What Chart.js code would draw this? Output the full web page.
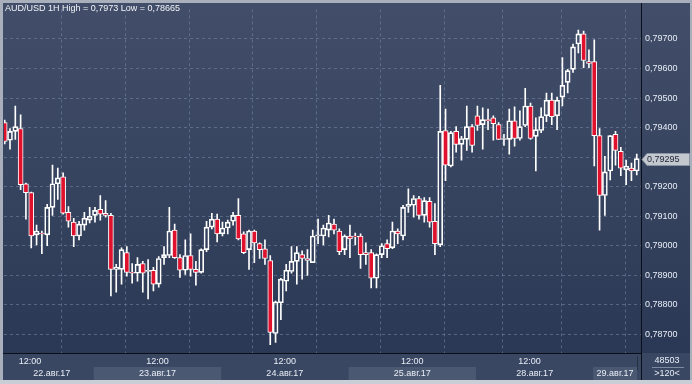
<!DOCTYPE html>
<html><head><meta charset="utf-8">
<script src="https://cdn.jsdelivr.net/npm/chart.js@4"></script>
<style>html,body{margin:0;padding:0;background:#a9b0bc;overflow:hidden}canvas{display:block}</style>
</head><body>
<canvas id="c" width="692" height="384"></canvas>
<script>
const titleText = 'AUD/USD 1H High = 0,7973 Low = 0,78665';
const opens = [0.79417,0.79357,0.79387,0.79397,0.79210,0.79180,0.79037,0.79043,0.79037,0.79130,
0.79210,0.79233,0.79113,0.79080,0.79033,0.79070,0.79087,0.79103,0.79123,0.79110,
0.79103,0.78920,0.78920,0.78977,0.78910,0.78907,0.78940,0.78913,0.78917,0.78870,
0.78960,0.78967,0.79053,0.78960,0.78917,0.78967,0.78920,0.78910,0.78987,0.79063,
0.79090,0.79040,0.79060,0.79083,0.79103,0.79040,0.78987,0.79050,0.79007,0.78990,
0.78950,0.78703,0.78807,0.78880,0.78913,0.78947,0.78970,0.78957,0.78943,0.79033,
0.79033,0.79053,0.79073,0.79050,0.78987,0.79033,0.79033,0.79033,0.78977,0.78977,
0.78890,0.78970,0.79007,0.78993,0.79050,0.79033,0.79133,0.79137,0.79160,0.79103,
0.79150,0.79083,0.79003,0.79390,0.79270,0.79387,0.79343,0.79360,0.79403,0.79440,
0.79410,0.79427,0.79433,0.79410,0.79360,0.79360,0.79423,0.79363,0.79407,0.79473,
0.79370,0.79390,0.79440,0.79493,0.79440,0.79503,0.79553,0.79597,0.79683,0.79717,
0.79623,0.79623,0.79373,0.79170,0.79253,0.79377,0.79320,0.79257,0.79263,0.79253];
const highs = [0.79425,0.79397,0.79473,0.79443,0.79212,0.79182,0.79070,0.79050,0.79140,0.79273,
0.79263,0.79247,0.79133,0.79093,0.79083,0.79113,0.79130,0.79130,0.79170,0.79153,
0.79110,0.78937,0.78993,0.78997,0.78940,0.78960,0.78947,0.78953,0.78927,0.78963,
0.78997,0.79130,0.79073,0.78970,0.79020,0.79040,0.78947,0.78990,0.79083,0.79110,
0.79107,0.79080,0.79087,0.79113,0.79160,0.79047,0.79053,0.79053,0.79010,0.79020,
0.78967,0.78813,0.78890,0.78937,0.78997,0.78997,0.78983,0.78987,0.79053,0.79090,
0.79070,0.79103,0.79090,0.79057,0.79037,0.79070,0.79043,0.79040,0.79010,0.78987,
0.78973,0.79007,0.79020,0.79080,0.79057,0.79137,0.79193,0.79170,0.79167,0.79163,
0.79163,0.79143,0.79543,0.79463,0.79387,0.79403,0.79370,0.79473,0.79410,0.79473,
0.79467,0.79463,0.79440,0.79417,0.79377,0.79463,0.79470,0.79457,0.79533,0.79483,
0.79433,0.79467,0.79517,0.79517,0.79503,0.79637,0.79597,0.79683,0.79730,0.79727,
0.79663,0.79697,0.79397,0.79303,0.79373,0.79387,0.79333,0.79290,0.79280,0.79310];
const lows = [0.79345,0.79327,0.79360,0.79190,0.79090,0.78993,0.79003,0.78973,0.79000,0.79103,
0.79157,0.79107,0.79063,0.78997,0.79020,0.79053,0.79077,0.79080,0.79087,0.79097,
0.78830,0.78843,0.78870,0.78897,0.78873,0.78880,0.78843,0.78820,0.78847,0.78860,
0.78937,0.78960,0.78957,0.78893,0.78903,0.78897,0.78867,0.78907,0.78980,0.79057,
0.79013,0.79033,0.79040,0.79070,0.79020,0.78973,0.78920,0.78943,0.78957,0.78937,
0.78665,0.78673,0.78750,0.78847,0.78907,0.78870,0.78887,0.78900,0.78943,0.79007,
0.79003,0.79030,0.79040,0.78970,0.78970,0.78960,0.79003,0.78923,0.78937,0.78857,
0.78857,0.78960,0.78960,0.78990,0.79007,0.79020,0.79113,0.79097,0.79090,0.79080,
0.79063,0.78970,0.78997,0.79220,0.79267,0.79317,0.79290,0.79323,0.79317,0.79390,
0.79327,0.79393,0.79357,0.79360,0.79340,0.79310,0.79337,0.79357,0.79403,0.79360,
0.79253,0.79383,0.79420,0.79410,0.79393,0.79473,0.79517,0.79587,0.79653,0.79603,
0.79603,0.79270,0.79053,0.79103,0.79223,0.79273,0.79237,0.79207,0.79220,0.79240];
const closes = [0.79353,0.79387,0.79403,0.79207,0.79180,0.79033,0.79050,0.79040,0.79130,0.79210,
0.79230,0.79110,0.79083,0.79033,0.79073,0.79093,0.79100,0.79120,0.79107,0.79103,
0.78920,0.78927,0.78987,0.78910,0.78907,0.78937,0.78907,0.78917,0.78870,0.78957,
0.78970,0.79050,0.78960,0.78917,0.78967,0.78920,0.78910,0.78987,0.79063,0.79090,
0.79040,0.79060,0.79080,0.79103,0.79023,0.78977,0.79050,0.79010,0.78987,0.78957,
0.78707,0.78810,0.78887,0.78917,0.78947,0.78977,0.78957,0.78950,0.79033,0.79037,
0.79060,0.79077,0.79053,0.78980,0.79033,0.79023,0.79030,0.78970,0.78970,0.78890,
0.78970,0.79000,0.78990,0.79050,0.79040,0.79130,0.79140,0.79160,0.79103,0.79153,
0.79080,0.79007,0.79387,0.79273,0.79383,0.79343,0.79363,0.79403,0.79340,0.79407,
0.79427,0.79423,0.79413,0.79360,0.79363,0.79423,0.79363,0.79403,0.79473,0.79363,
0.79393,0.79437,0.79493,0.79437,0.79493,0.79543,0.79593,0.79673,0.79717,0.79627,
0.79617,0.79373,0.79170,0.79250,0.79373,0.79323,0.79263,0.79270,0.79253,0.79295];
const priceTicks = [0.787,0.788,0.789,0.790,0.791,0.792,0.793,0.794,0.795,0.796,0.797];
const gridPositions = [4.75,16.75,28.75,40.75,52.75,64.75,76.75,88.75,98.8,110.8];
const timeTickPositions = [4.75,28.75,52.75,76.75,98.8];
const timeTickText = '12:00';
const dayLabels = ['22.авг.17','23.авг.17','24.авг.17','25.авг.17','28.авг.17','29.авг.17'];
const dayStarts = [-0.13,16.75,40.75,64.75,88.75,110.8];
const dayEnds = [16.75,40.75,64.75,88.75,110.8,119.8];
const volumeText = '48503';
const xMin = -0.13, xMax = 119.8, yMin = 0.78637, yMax = 0.798;

const idx = opens.map((_, i) => i);
const upperWicks = idx.map(i => ({x: i, y: [Math.max(opens[i], closes[i]), highs[i]]}));
const lowerWicks = idx.map(i => ({x: i, y: [lows[i], Math.min(opens[i], closes[i])]}));
const bodies = idx.map(i => ({x: i, y: [opens[i], closes[i]]}));
const bodyColors = idx.map(i => closes[i] < opens[i] ? '#e0112d' : 'rgba(0,0,0,0)');

const FONT = '9px "Liberation Sans", Arial, sans-serif';
const TXT = '#e8eef7';

const framePlugin = {
  id: 'frame',
  beforeDraw(chart) {
    const c = chart.ctx, a = chart.chartArea;
    c.save();
    c.fillStyle = '#a9b0bc';
    c.fillRect(0, 0, 692, 384);
    c.fillStyle = '#c9ced6';
    c.fillRect(0, 380, 692, 4);
    const g = c.createLinearGradient(0, a.top, 0, a.bottom);
    g.addColorStop(0, '#424e69');
    g.addColorStop(0.5, '#37445f');
    g.addColorStop(1, '#2b3855');
    c.fillStyle = g;
    c.fillRect(3, 3, 687, a.bottom - 3);
    c.fillStyle = '#3a4762';
    c.fillRect(3, a.bottom, 687, 380 - a.bottom);
    // day bands
    const xs = chart.scales.x;
    c.fillStyle = '#4b5872';
    dayLabels.forEach((d, k) => {
      if (k % 2 === 1) {
        const x0 = xs.getPixelForValue(dayStarts[k]);
        const x1 = Math.min(xs.getPixelForValue(dayEnds[k]), a.right - 4);
        c.fillRect(x0, 367, x1 - x0, 13);
      }
    });
    c.restore();
  },
  afterDraw(chart) {
    const c = chart.ctx, a = chart.chartArea;
    const xs = chart.scales.x, ys = chart.scales.y;
    c.save();
    // axis lines
    c.strokeStyle = '#0b0f18';
    c.lineWidth = 1;
    c.beginPath();
    c.moveTo(Math.round(a.right) + 0.5, 3); c.lineTo(Math.round(a.right) + 0.5, 380);
    c.moveTo(3, Math.round(a.bottom) + 0.5); c.lineTo(Math.round(a.right), Math.round(a.bottom) + 0.5);
    c.stroke();
    // separator in bottom axis
    c.strokeStyle = '#26303f';
    c.beginPath();
    c.moveTo(637.5, 356); c.lineTo(637.5, 370);
    c.stroke();
    // title
    c.font = FONT;
    c.fillStyle = '#f2f4f8';
    c.textBaseline = 'middle';
    c.textAlign = 'left';
    c.fillText(titleText, 5, 9);
    // time labels
    c.fillStyle = TXT;
    c.textAlign = 'center';
    timeTickPositions.forEach(p => c.fillText(timeTickText, xs.getPixelForValue(p), 362));
    dayLabels.forEach((d, k) => {
      const x0 = Math.max(xs.getPixelForValue(dayStarts[k]), a.left);
      const x1 = Math.min(xs.getPixelForValue(dayEnds[k]), a.right - 4);
      c.fillText(d, (x0 + x1) / 2 + (k === 0 ? 3 : 0), 373.5);
    });
    // volume box
    c.fillText(volumeText, 667, 361);
    c.strokeStyle = '#7d8aa0';
    c.beginPath(); c.moveTo(652, 367.5); c.lineTo(684, 367.5); c.stroke();
    c.fillText('>' + opens.length + '<', 667, 374);
    // current price label
    const last = closes[closes.length - 1];
    const py = Math.round(ys.getPixelForValue(last));
    c.fillStyle = '#c3c7ce';
    c.strokeStyle = '#8a93a2';
    c.beginPath();
    c.moveTo(a.right + 1, py + 0.5);
    c.lineTo(a.right + 6, py - 5.5);
    c.lineTo(689.5, py - 5.5);
    c.lineTo(689.5, py + 6.5);
    c.lineTo(a.right + 6, py + 6.5);
    c.closePath();
    c.fill(); c.stroke();
    c.fillStyle = '#1c2436';
    c.textAlign = 'left';
    c.fillText(last.toFixed(5).replace('.', ','), 647, py + 1);
    c.restore();
  }
};

new Chart(document.getElementById('c'), {
  type: 'bar',
  data: {
    datasets: [
      {data: upperWicks, backgroundColor: '#ffffff', borderWidth: 0, barThickness: 1, grouped: false, order: 2},
      {data: lowerWicks, backgroundColor: '#ffffff', borderWidth: 0, barThickness: 1, grouped: false, order: 2},
      {data: bodies, backgroundColor: bodyColors, borderColor: '#ffffff', borderWidth: 1,
       borderSkipped: false, barThickness: 5, grouped: false, order: 1}
    ]
  },
  options: {
    responsive: false,
    animation: false,
    events: [],
    layout: {padding: {left: 4, top: 4, right: 0, bottom: 4}},
    plugins: {legend: {display: false}, tooltip: {enabled: false}, title: {display: false}},
    scales: {
      x: {
        type: 'linear', min: xMin, max: xMax, offset: false,
        afterBuildTicks: s => { s.ticks = gridPositions.map(v => ({value: v})); },
        afterFit: s => { s.height = 27; },
        ticks: {display: false},
        grid: {color: 'rgba(120,136,166,0.55)', lineWidth: 1, drawTicks: false},
        border: {display: false, dash: [3, 3]}
      },
      y: {
        type: 'linear', position: 'right', min: yMin, max: yMax,
        afterBuildTicks: s => { s.ticks = priceTicks.map(v => ({value: v})); },
        afterFit: s => { s.width = 51; },
        ticks: {
          color: TXT, padding: 4,
          font: {family: '"Liberation Sans", Arial, sans-serif', size: 9},
          callback: v => Number(v).toFixed(5).replace('.', ',')
        },
        grid: {color: 'rgba(120,136,166,0.55)', lineWidth: 1, drawTicks: false},
        border: {display: false, dash: [3, 3]}
      }
    }
  },
  plugins: [framePlugin]
});
</script>
</body></html>
